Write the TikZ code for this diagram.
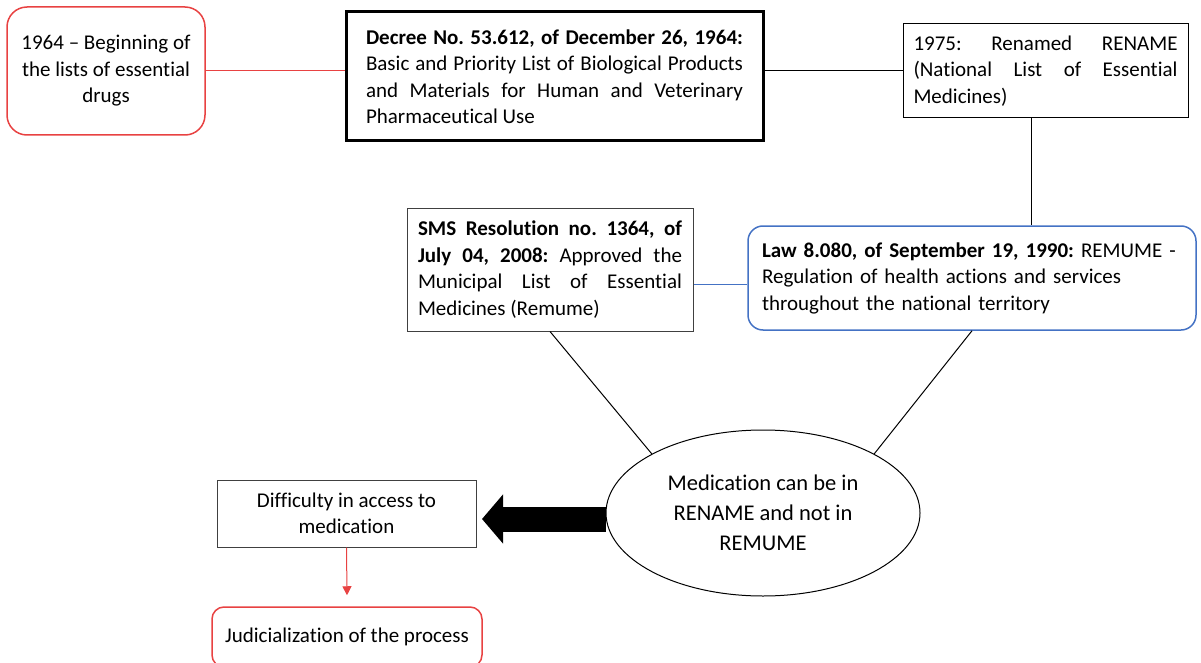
\documentclass[tikz,border=0pt]{standalone}
\usepackage{fontspec}
\setmainfont{Carlito}[Ligatures=NoCommon]
\frenchspacing
\usetikzlibrary{shapes.geometric,arrows.meta}
\definecolor{boxred}{RGB}{232,66,66}
\definecolor{boxblue}{RGB}{68,114,196}
\begin{document}
\begin{tikzpicture}[x=1pt, y=-1pt]
	\tikzstyle{plain} = [ draw, rectangle, line width=1pt, inner sep=0pt, font={\fontsize{21}{26.5}\selectfont}];
	\tikzstyle{redbox} = [ plain, draw=boxred, line width=1.5pt, align=center];
	\tikzstyle{textbox} = [ plain, align=justify];
	\tikzstyle{link} = [ line width=1pt ];
	\tikzstyle{bigarrow} = [ line width=25pt, -{Triangle[length=21pt, width=48pt]} ];

	\useasboundingbox (0,0) rectangle (1201,663);

	\node[redbox, rounded corners=20pt, minimum width=198, minimum height=128] (y64) at (106,71)
		{1964 – Beginning of\\the lists of essential\\drugs};
	\node[textbox, line width=3pt, text width=377, minimum width=417, minimum height=129] (decree) at (554.5,76.5)
		{\textbf{Decree No. 53.612, of December 26, 1964:}\linebreak Basic and Priority List of Biological Products\linebreak and Materials for Human and Veterinary\linebreak Pharmaceutical Use};
	\node[textbox, text width=264, minimum width=285, minimum height=94] (r75) at (1045.5,71)
		{1975: Renamed RENAME\linebreak (National List of Essential\linebreak Medicines)};
	\node[textbox, draw=black!75, text width=264, minimum width=286, minimum height=123] (sms) at (550,269.5)
		{\textbf{SMS Resolution no. 1364, of}\linebreak \textbf{July 04, 2008:} Approved the\linebreak Municipal List of Essential\linebreak Medicines (Remume)};
	\node[plain, draw=boxblue, line width=1.5pt, rounded corners=15pt, align=left, text width=420, minimum width=448, minimum height=104] (law) at (972,278)
		{\textbf{Law 8.080, of September 19, 1990:} REMUME -\\Regulation of health actions and services\\throughout the national territory};
	\node[plain, ellipse, minimum width=314, minimum height=166, align=center, font={\fontsize{22.5}{30}\selectfont}] (med) at (763,513)
		{Medication can be in\\RENAME and not in\\REMUME};
	\node[plain, draw=black!75, align=center, minimum width=259, minimum height=67] (diff) at (346.5,513.5)
		{Difficulty in access to\\medication};
	\node[redbox, rounded corners=12pt, minimum width=270, minimum height=60] (jud) at (347,637)
		{Judicialization of the process};

	\coordinate (drop) at ([xshift=-14pt]r75.south);
	\coordinate (lawpin) at ([yshift=-6pt]law.west);
	\coordinate (tip) at (482,519);

	\draw[link, boxred] (y64.east) -- (decree.west |- y64.east);
	\draw[link] (decree.east |- r75.west) -- (r75.west);
	\draw[link] (drop) -- (drop |- law.north);
	\draw[link, boxblue] (sms.east |- lawpin) -- (lawpin);
	\draw[link] (sms.south) -- (med.152);
	\draw[link] (law.south) -- (med.28);
	\draw[bigarrow] (med.west |- tip) -- (tip);
	\draw[link, boxred, -{Triangle[length=9pt, width=9pt]}] (diff.south) -- ([yshift=11pt]jud.north);
\end{tikzpicture}
\end{document}
